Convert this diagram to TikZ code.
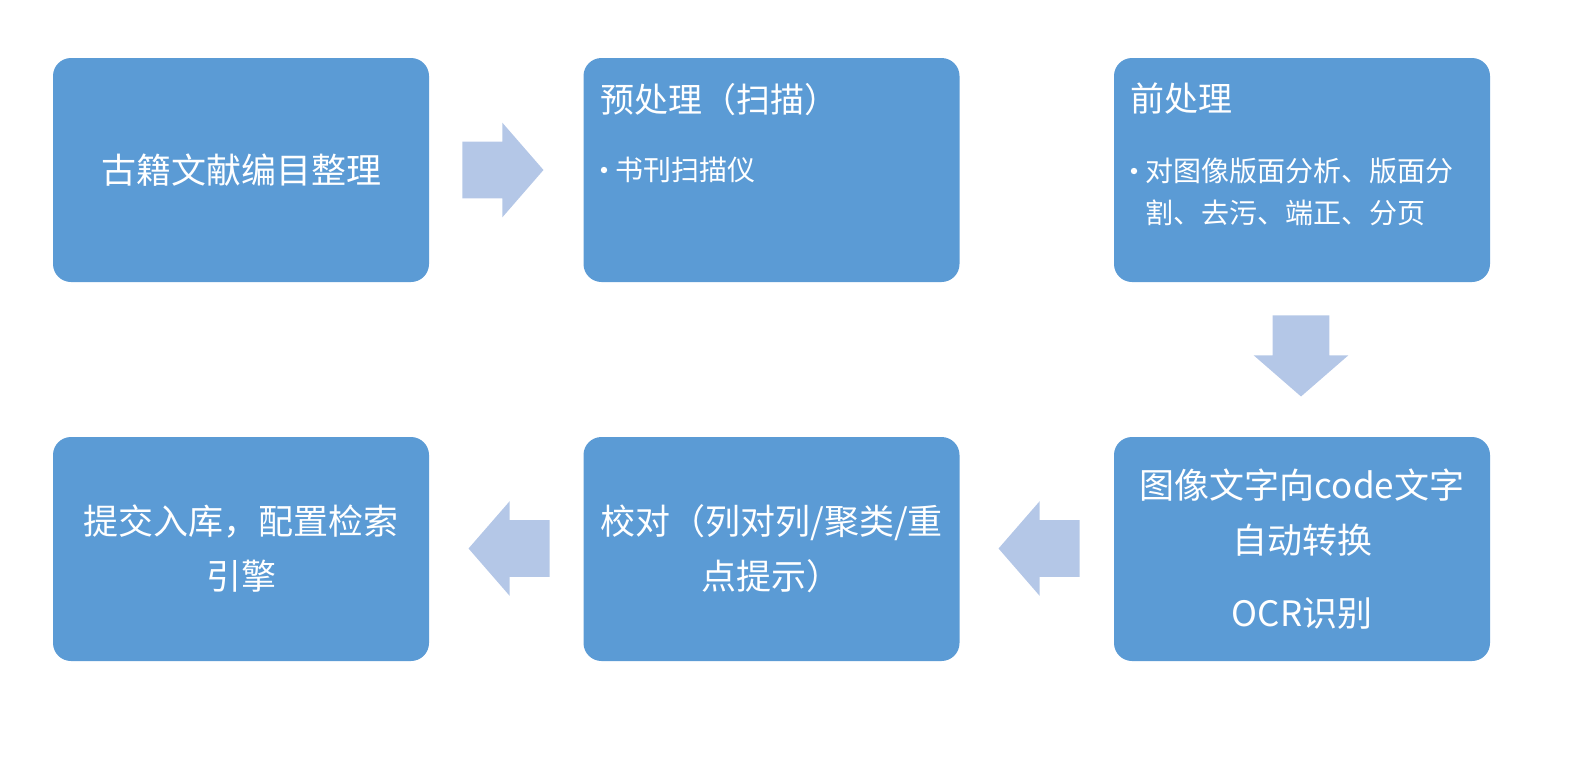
\documentclass[tikz,border=0pt]{standalone}
\usepackage{fontspec}
\setmainfont{Noto Sans CJK SC}
\usepackage{tikz}
\usetikzlibrary{shapes.arrows}
\definecolor{boxblue}{HTML}{5B9BD5}
\definecolor{arrowblue}{HTML}{B4C7E7}
\tikzset{
  stagebox/.style={fill=boxblue,rounded corners=9pt,minimum width=188pt,minimum height=112pt,
    inner sep=0pt,text=white,align=center,font=\fontsize{17.5}{27.5}\selectfont},
  flowarrow/.style={single arrow,fill=arrowblue,minimum height=40.5pt,inner xsep=0pt,inner ysep=14pt,
    single arrow head extend=9.5pt,single arrow tip angle=98,anchor=tip},
  titletext/.style={anchor=west,text=white,inner sep=0pt,font=\fontsize{17}{20}\selectfont},
  itemtext/.style={anchor=west,text=white,inner sep=0pt,align=left,font=\fontsize{14}{21}\selectfont},
  itemdot/.style={circle,fill=white,inner sep=0pt,minimum size=3.2pt}
}

\begin{document}
\begin{tikzpicture}[x=0.5pt,y=-0.5pt]
\useasboundingbox (0,0) rectangle (1591,756);
\node [stagebox] (catalog) at (241,170) {古籍文献编目整理};
\node [stagebox] (scan) at (771.5,170) {};
\node [stagebox] (prep) at (1302,170) {};
\node [stagebox] (ocr) at (1302,549) {图像文字向code文字\\自动转换\\[9pt]OCR识别};
\node [stagebox] (proof) at (771.5,549) {校对（列对列/聚类/重\\点提示）};
\node [stagebox] (store) at (241,549) {提交入库，配置检索\\引擎};
\node [titletext] (scantitle) at (600,100) {预处理（扫描）};
\node [itemdot] (scandot) at (604,170) {};
\node [itemtext] (scanitem) at (615,170) {书刊扫描仪};
\node [titletext] (preptitle) at (1130,99) {前处理};
\node [itemdot] (prepdot) at (1134,171) {};
\node [itemtext] (prepitem) at (1145,192) {对图像版面分析、版面分\\割、去污、端正、分页};
\node [flowarrow] (toscan) at (544,170) {};
\node [flowarrow,shape border rotate=270,inner xsep=14pt,inner ysep=0pt] (toocr) at (1301,397) {};
\node [flowarrow,shape border rotate=180] (toproof) at (998,548.5) {};
\node [flowarrow,shape border rotate=180] (tostore) at (468,548.5) {};
\end{tikzpicture}
\end{document}
